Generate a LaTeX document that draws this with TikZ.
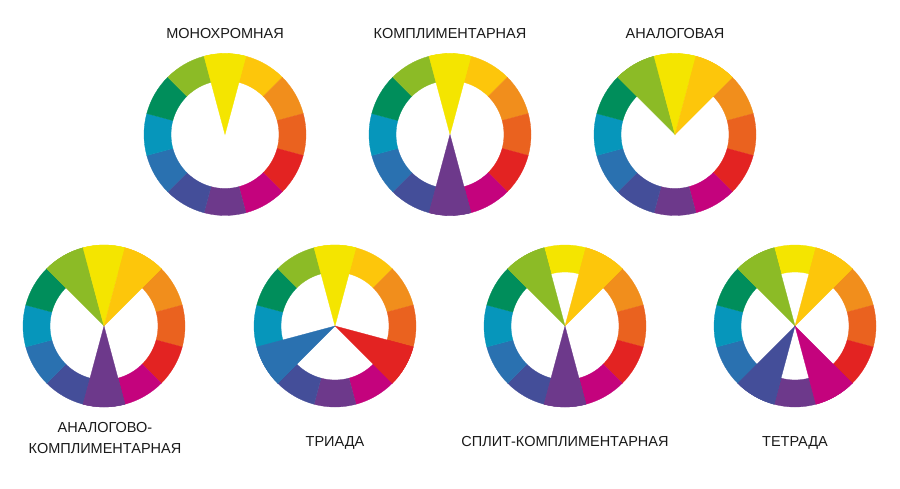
\documentclass[tikz,border=0pt]{standalone}
\usepackage{fontspec}
\setmainfont{Liberation Sans}
\definecolor{wc0}{HTML}{F4E500}
\definecolor{wc1}{HTML}{FDC60B}
\definecolor{wc2}{HTML}{F18E1C}
\definecolor{wc3}{HTML}{EA621F}
\definecolor{wc4}{HTML}{E32322}
\definecolor{wc5}{HTML}{C4037D}
\definecolor{wc6}{HTML}{6D398B}
\definecolor{wc7}{HTML}{444E99}
\definecolor{wc8}{HTML}{2A71B0}
\definecolor{wc9}{HTML}{0696BB}
\definecolor{wc10}{HTML}{008E5B}
\definecolor{wc11}{HTML}{8CBB26}
\definecolor{labeltext}{HTML}{1A1A1A}
\newcommand\colorwheel[3]{%
  \begin{scope}[shift={(#1pt,#2pt)}]
    \foreach \i in {0,...,11}{%
      \pgfmathsetmacro\a{90-30*\i}%
      \fill[wc\i,draw=wc\i,line width=0.3pt] (\a-15:54pt) -- (\a-15:81pt)
        arc[start angle=\a-15, end angle=\a+15, radius=81pt]
        -- (\a+15:54pt)
        arc[start angle=\a+15, end angle=\a-15, radius=54pt] -- cycle;
    }
    \foreach \i in {#3}{%
      \pgfmathsetmacro\a{90-30*\i}%
      \fill[wc\i,draw=wc\i,line width=0.3pt] (0,0) -- (\a-15:81pt)
        arc[start angle=\a-15, end angle=\a+15, radius=81pt] -- cycle;
    }
  \end{scope}}
\tikzset{wheellabel/.style={anchor=base, inner sep=0pt, text=labeltext,
  font=\fontsize{14.5}{21}\selectfont, align=center}}
\begin{document}
\begin{tikzpicture}
\useasboundingbox[fill=white] (0,0) rectangle (900pt,-489pt);
\colorwheel{225}{-134.5}{0}
\colorwheel{450}{-134.5}{0,6}
\colorwheel{675}{-134.5}{11,0,1}
\colorwheel{104}{-326}{11,0,1,6}
\colorwheel{335}{-326}{0,4,8}
\colorwheel{565}{-326}{11,1,6}
\colorwheel{795}{-326}{11,1,5,7}
\node[wheellabel] (mono) at (225pt,-38.2pt) {МОНОХРОМНАЯ};
\node[wheellabel] (compl) at (450pt,-38.2pt) {КОМПЛИМЕНТАРНАЯ};
\node[wheellabel] (analog) at (675pt,-38.2pt) {АНАЛОГОВАЯ};
\node[wheellabel] (ancompl) at (105pt,-453.2pt) {АНАЛОГОВО-\\КОМПЛИМЕНТАРНАЯ};
\node[wheellabel] (triad) at (335pt,-446.7pt) {ТРИАДА};
\node[wheellabel] (split) at (565pt,-446.7pt) {СПЛИТ-КОМПЛИМЕНТАРНАЯ};
\node[wheellabel] (tetrad) at (795pt,-446.7pt) {ТЕТРАДА};
\end{tikzpicture}
\end{document}
